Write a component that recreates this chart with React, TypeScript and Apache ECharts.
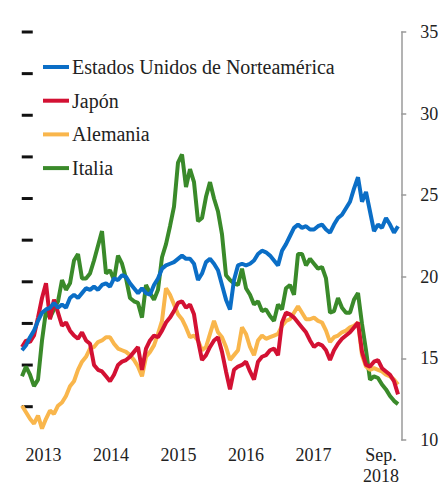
import React, { useEffect, useRef } from "react";
import * as echarts from "echarts";

// Series sampled roughly every three weeks from early 2013 to Sep. 2018
const T0 = 2013.1815;
const STEP = 0.05926;

const seriesNames = ["Estados Unidos de Norteamérica", "Japón", "Alemania", "Italia"];

const usValues = [
  15.5, 15.8, 16.3, 16.7, 17.3, 17.8, 18.0, 18.1, 18.4, 18.1,
  18.3, 18.1, 18.7, 18.9, 18.7, 19.0, 19.3, 19.2, 19.4, 19.2,
  19.5, 19.6, 19.4, 19.9, 19.8, 20.1, 20.0, 19.6, 19.3, 19.0,
  19.3, 19.0, 18.9, 19.5, 19.9, 20.5, 20.7, 20.8, 20.9, 21.1,
  21.3, 21.1, 21.1, 20.8, 19.8, 20.2, 20.9, 21.1, 20.8, 20.4,
  19.5, 18.6, 18.0, 19.8, 20.7, 20.8, 20.7, 20.8, 21.0, 21.4,
  21.6, 21.5, 21.3, 21.0, 20.7, 21.6, 22.0, 22.5, 23.0, 23.2,
  23.0, 23.1, 22.9, 22.9, 23.1, 23.2, 22.9, 22.7, 23.2, 23.6,
  23.8, 24.2, 24.6, 25.4, 26.1, 24.6, 25.2, 24.0, 22.8, 23.2,
  23.0, 23.6, 23.2, 22.7, 23.1,
];

const japanValues = [
  15.7, 16.1, 16.0, 16.4, 17.5, 18.7, 19.6, 17.4, 18.6, 17.8,
  17.0, 17.2, 16.7, 16.4, 16.2, 16.6, 16.1, 15.9, 14.6, 14.3,
  14.2, 13.9, 13.6, 14.0, 14.6, 14.8, 14.9, 15.1, 15.4, 15.7,
  14.3, 15.6, 16.1, 16.4, 16.3, 16.7, 17.2, 17.5, 17.9, 18.4,
  18.5, 18.1, 18.3, 17.7, 16.1, 14.9, 15.2, 15.7, 16.1, 16.3,
  15.4, 14.2, 13.1, 14.3, 14.5, 14.6, 14.8, 14.2, 13.7, 14.8,
  15.1, 15.2, 15.5, 15.6, 15.2, 17.2, 17.8, 17.7, 17.5, 17.2,
  16.9, 16.6, 16.1, 15.7, 15.9, 15.8, 15.5, 14.9, 15.5, 15.9,
  16.2, 16.4, 16.6, 16.9, 17.2, 15.4, 14.6, 14.5, 14.8, 14.9,
  14.4, 14.2, 14.0, 13.6, 12.8,
];

const germanyValues = [
  12.1, 11.7, 11.3, 11.0, 11.5, 10.7, 11.3, 11.8, 11.6, 12.1,
  12.3, 12.7, 13.3, 13.6, 14.3, 14.8, 15.1, 15.6, 15.7, 16.0,
  16.1, 16.3, 16.3, 15.9, 15.6, 15.5, 15.4, 15.2, 14.9, 14.5,
  13.9, 15.1, 15.4, 15.8, 16.5, 17.3, 19.3, 18.9, 18.3, 17.7,
  17.4, 16.9, 16.3, 16.4, 16.1, 15.5, 15.7, 16.5, 17.3, 16.6,
  16.3, 15.7, 14.9, 15.2, 15.5, 16.9, 16.5, 15.7, 15.2, 16.1,
  16.4, 16.2, 16.3, 16.4, 16.5, 17.0, 17.3, 17.4, 17.8, 18.2,
  17.8, 17.4, 17.4, 17.5, 17.3, 17.2, 16.7, 16.0, 16.3, 16.4,
  16.6, 16.7, 16.9, 17.0, 17.2, 15.2, 14.5, 14.3, 14.4, 14.3,
  14.2, 14.0, 13.9, 13.7, 13.4,
];

const italyValues = [
  13.9, 14.5, 14.0, 13.3, 13.7, 16.1, 17.9, 17.5, 18.0, 18.5,
  19.8, 19.2, 19.6, 21.0, 21.4, 19.9, 19.9, 20.2, 21.0, 21.9,
  22.8, 20.2, 20.4, 19.8, 21.3, 20.8, 19.9, 18.7, 18.5, 18.4,
  17.5, 19.5, 19.0, 18.6, 19.2, 21.2, 22.0, 23.1, 24.3, 27.0,
  27.5, 25.5, 26.6, 25.8, 23.4, 23.6, 24.9, 25.8, 24.8, 24.0,
  22.6, 20.1, 19.8, 19.6, 19.5, 20.5, 19.3, 18.9, 18.3, 18.5,
  17.9, 18.0, 17.6, 17.3, 18.3, 18.0, 19.3, 19.5, 18.9, 21.4,
  21.4, 20.7, 21.1, 20.8, 20.5, 20.6, 19.9, 17.8, 17.9, 18.7,
  18.1, 17.8, 17.8, 18.6, 19.0, 17.1, 15.5, 13.7, 13.9, 13.8,
  13.4, 13.1, 12.7, 12.4, 12.2,
];

const yearLabels = ["2013", "2014", "2015", "2016", "2017", "Sep.\n2018"];

const seriesColors = ["#0b6ec6", "#d31133", "#f9b64c", "#3a8a2a"];

const FONT = "Liberation Serif";

function toPairs(vals: number[]) {
  return vals.map((v, i) => [T0 + i * STEP, v]);
}

export default function App() {
  const ref = useRef<HTMLDivElement>(null);

  useEffect(() => {
    if (!ref.current) return;
    const chart = echarts.init(ref.current, null, { renderer: "svg" });
    const lineSeries = (name: string, vals: number[], color: string) => ({
      name,
      type: "line",
      data: toPairs(vals),
      showSymbol: false,
      symbol: "none",
      yAxisIndex: 0,
      lineStyle: { width: 4, color },
      itemStyle: { color },
    });
    // legend drawn as graphic elements (icon bar + serif text)
    const legendItems = seriesNames.map((name, i) => ({
      type: "group",
      x: 43,
      y: 67 + i * 33.7,
      children: [
        { type: "rect", shape: { x: 0, y: -2, width: 26, height: 4 }, style: { fill: seriesColors[i] } },
        {
          type: "text",
          x: 29,
          y: 0,
          style: {
            text: name,
            fontFamily: FONT,
            fontSize: 20,
            fill: "#222",
            verticalAlign: "middle",
            align: "left",
          },
        },
      ],
    }));
    chart.setOption({
      animation: false,
      backgroundColor: "#ffffff",
      textStyle: { fontFamily: FONT },
      grid: { left: 9.75, right: 41.75, top: 32, bottom: 39, containLabel: false },
      graphic: legendItems,
      xAxis: {
        type: "value",
        min: 2013,
        max: 2018.8,
        interval: 0.5,
        axisLine: { show: false },
        axisTick: { show: false },
        splitLine: { show: false },
        axisLabel: {
          fontFamily: FONT,
          fontSize: 18,
          color: "#222",
          lineHeight: 21,
          margin: 4,
          showMaxLabel: false,
          formatter: (v: number) => {
            const k = Math.round(v * 2);
            if (k % 2 !== 1) return "";
            const idx = Math.floor(v) - 2013;
            return yearLabels[idx] ?? "";
          },
        },
      },
      yAxis: [
        {
          type: "value",
          position: "right",
          min: 10,
          max: 35,
          interval: 5,
          axisLine: { show: true, lineStyle: { color: "#9a9a9a", width: 1.5 } },
          axisTick: { show: true, inside: false, length: 5, lineStyle: { color: "#9a9a9a", width: 1.5 } },
          splitLine: { show: false },
          axisLabel: { fontFamily: FONT, fontSize: 18, color: "#222", margin: 19 },
        },
        {
          type: "value",
          position: "left",
          min: 0,
          max: 9.8,
          interval: 1,
          inverse: true,
          axisLine: { show: false },
          axisTick: { show: false },
          splitLine: { show: false },
          axisLabel: {
            inside: true,
            margin: 12,
            showMaxLabel: false,
            formatter: () => "{d| }",
            rich: { d: { width: 11, height: 3, backgroundColor: "#111", fontSize: 1 } },
          },
        },
      ],
      series: [
        lineSeries(seriesNames[3], italyValues, seriesColors[3]),
        lineSeries(seriesNames[2], germanyValues, seriesColors[2]),
        lineSeries(seriesNames[1], japanValues, seriesColors[1]),
        lineSeries(seriesNames[0], usValues, seriesColors[0]),
      ],
    });
    return () => chart.dispose();
  }, []);

  return <div ref={ref} style={{ width: 443, height: 486, position: "fixed", left: 0, top: 0 }} />;
}
